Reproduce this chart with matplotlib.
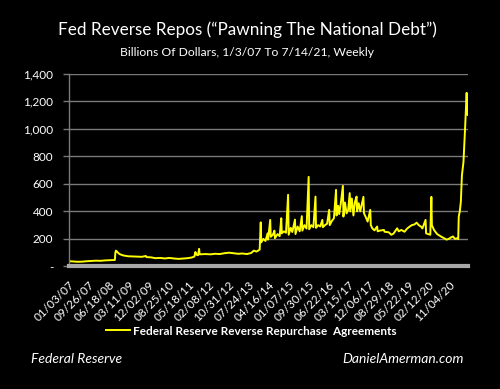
import matplotlib
matplotlib.use("Agg")
import matplotlib.pyplot as plt
import matplotlib.dates as mdates
import pandas as pd

# Fed reverse repos, billions of dollars
dates = [
    "2007-01-03", "2007-01-24", "2007-03-07", "2007-05-02", "2007-07-04", "2007-09-05",
    "2007-11-07", "2008-01-02", "2008-03-05", "2008-05-07", "2008-07-02", "2008-09-10",
    "2008-09-17", "2008-09-24", "2008-10-08", "2008-10-29", "2008-11-19", "2008-12-31",
    "2009-03-04", "2009-06-03", "2009-09-02", "2009-10-28", "2009-11-04", "2010-01-06",
    "2010-03-03", "2010-05-05", "2010-07-07", "2010-09-01", "2010-11-03", "2011-01-05",
    "2011-03-02", "2011-05-04", "2011-06-29", "2011-08-03", "2011-08-17", "2011-08-31",
    "2011-09-21", "2011-10-05", "2011-10-12", "2011-12-28", "2012-03-07", "2012-05-02",
    "2012-07-04", "2012-09-05", "2012-11-07", "2013-01-02", "2013-03-06", "2013-05-01",
    "2013-07-03", "2013-08-28", "2013-10-02", "2013-11-06", "2013-12-18", "2014-01-01",
    "2014-01-08", "2014-02-05", "2014-03-05", "2014-04-02", "2014-04-09", "2014-05-07",
    "2014-05-14", "2014-06-11", "2014-07-02", "2014-07-09", "2014-08-13", "2014-09-10",
    "2014-10-01", "2014-10-08", "2014-11-05", "2014-12-03", "2014-12-31", "2015-01-07",
    "2015-02-04", "2015-02-25", "2015-04-01", "2015-04-08", "2015-05-06", "2015-06-03",
    "2015-07-01", "2015-07-08", "2015-08-05", "2015-09-02", "2015-09-30", "2015-10-07",
    "2015-11-04", "2015-12-02", "2015-12-30", "2016-01-06", "2016-02-03", "2016-03-02",
    "2016-03-30", "2016-04-06", "2016-05-04", "2016-06-01", "2016-06-29", "2016-07-06",
    "2016-08-03", "2016-08-31", "2016-09-28", "2016-10-05", "2016-10-26", "2016-11-09",
    "2016-11-30", "2016-12-28", "2017-01-04", "2017-01-25", "2017-02-15", "2017-03-08",
    "2017-03-29", "2017-04-05", "2017-04-26", "2017-05-17", "2017-06-07", "2017-06-28",
    "2017-07-05", "2017-07-26", "2017-08-16", "2017-09-27", "2017-10-04", "2017-10-25",
    "2017-11-22", "2017-12-27", "2018-01-03", "2018-01-24", "2018-02-21", "2018-03-28",
    "2018-04-04", "2018-05-02", "2018-06-27", "2018-07-04", "2018-08-29", "2018-10-03",
    "2018-10-31", "2018-12-19", "2019-01-09", "2019-02-13", "2019-03-27", "2019-05-01",
    "2019-06-05", "2019-07-03", "2019-08-07", "2019-09-04", "2019-10-02", "2019-10-30",
    "2019-11-20", "2020-01-01", "2020-01-08", "2020-02-05", "2020-03-04", "2020-03-18",
    "2020-03-25", "2020-04-22", "2020-06-03", "2020-07-22", "2020-09-02", "2020-10-07",
    "2020-11-04", "2020-12-02", "2020-12-30", "2021-01-27", "2021-02-24", "2021-03-10",
    "2021-03-17", "2021-03-31", "2021-04-14", "2021-04-28", "2021-05-19", "2021-06-09",
    "2021-06-30", "2021-07-07", "2021-07-14",
]
values = [
    28, 38, 36, 34, 35, 38,
    40, 42, 41, 44, 45, 47,
    100, 115, 108, 96, 88, 80,
    74, 72, 70, 76, 68, 66,
    60, 62, 58, 62, 58, 55,
    57, 60, 65, 72, 105, 85,
    82, 128, 88, 90, 88, 92,
    90, 96, 100, 96, 92, 94,
    90, 98, 115, 108, 122, 320,
    175, 200, 185, 240, 195, 338,
    215, 230, 260, 205, 235, 220,
    350, 240, 255, 245, 520, 230,
    280, 250, 340, 235, 290, 255,
    365, 260, 300, 275, 650, 270,
    300, 285, 507, 280, 300, 290,
    338, 285, 300, 310, 411, 300,
    330, 350, 556, 370, 440, 380,
    456, 585, 362, 464, 385, 410,
    532, 400, 493, 370, 470, 507,
    400, 459, 400, 505, 386, 362,
    326, 411, 300, 276, 262, 290,
    255, 260, 265, 252, 248, 230,
    238, 277, 255, 265, 252, 275,
    290, 300, 305, 318, 300, 290,
    276, 338, 240, 235, 230, 505,
    300, 265, 235, 218, 205, 195,
    200, 210, 218, 200, 205, 198,
    362, 400, 470, 660, 760, 1000,
    1260, 1120, 1100,
]
series_label = "Federal Reserve Reverse Repurchase  Agreements"
y_ticks = [0, 200, 400, 600, 800, 1000, 1200, 1400]
y_tick_labels = ["-", "200", "400", "600", "800", "1,000", "1,200", "1,400"]

plt.rcParams["font.family"] = ["Lato", "DejaVu Sans"]

x = pd.to_datetime(dates)
tick_dates = pd.date_range("2007-01-03", periods=20, freq="266D")

fig = plt.figure(figsize=(5.0, 3.89), dpi=100, facecolor="black")
ax = fig.add_axes([0.137, 0.315, 0.799, 0.496], facecolor="black")

ax.plot(x, values, color="#ffff00", lw=1.4, label=series_label)

ax.set_ylim(0, 1400)
ax.set_xlim(pd.Timestamp("2007-01-03"), pd.Timestamp("2021-07-18"))
ax.set_yticks(y_ticks)
ax.set_yticklabels(y_tick_labels)
ax.grid(axis="y", color="#7a7a7a", lw=1)
ax.set_axisbelow(True)

ax.set_xticks(tick_dates)
ax.xaxis.set_major_formatter(mdates.DateFormatter("%m/%d/%y"))
for lab in ax.get_xticklabels():
    lab.set_rotation(45)
    lab.set_ha("right")
    lab.set_rotation_mode("anchor")

ax.tick_params(axis="x", length=0, pad=9, colors="white", labelsize=8.5)
ax.tick_params(axis="y", length=4, width=1, colors="white", labelsize=8.5, pad=7)
ax.tick_params(axis="y", color="#7a7a7a")

for side in ["top", "right"]:
    ax.spines[side].set_visible(False)
ax.spines["left"].set_color("#7a7a7a")
ax.spines["left"].set_linewidth(1)
ax.spines["bottom"].set_color("#a8a8a8")
ax.spines["bottom"].set_linewidth(3)

fig.text(0.494, 0.923, "Fed Reverse Repos (\u201cPawning The National Debt\u201d)",
         color="white", fontsize=12.3, ha="center", va="center")
fig.text(0.495, 0.866, "Billions Of Dollars, 1/3/07 To 7/14/21, Weekly",
         color="white", fontsize=8.7, ha="center", va="center")

leg = fig.legend(loc="center", bbox_to_anchor=(0.503, 0.149), frameon=False,
                 handlelength=2.0, handletextpad=0.3,
                 prop={"weight": "bold", "size": 8.5})
for t in leg.get_texts():
    t.set_color("white")

fig.text(0.062, 0.077, "Federal Reserve", color="white", fontsize=10,
         style="italic", ha="left", va="center")
fig.text(0.928, 0.077, "DanielAmerman.com", color="white", fontsize=10,
         style="italic", ha="right", va="center")

fig.savefig("out.png", dpi=100, facecolor="black")
